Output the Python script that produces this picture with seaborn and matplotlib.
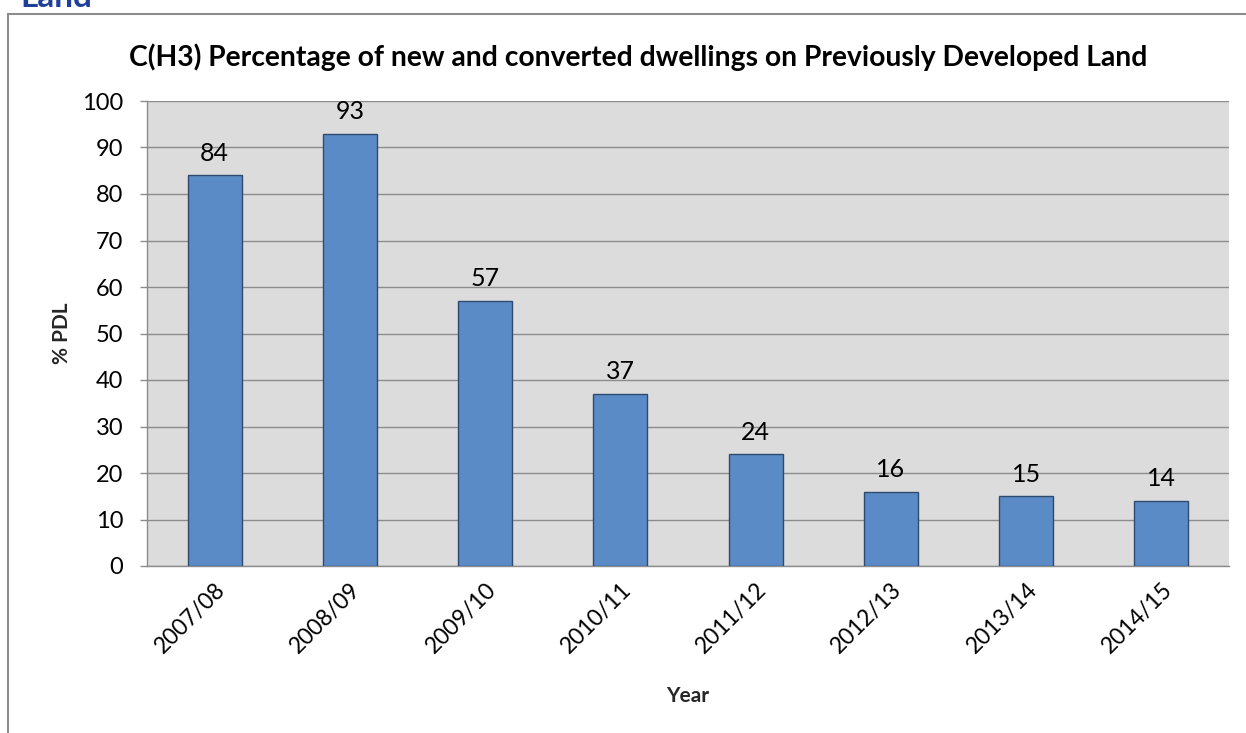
import matplotlib
matplotlib.use("Agg")
import matplotlib.pyplot as plt
import seaborn as sns
import pandas as pd
from matplotlib.patches import Rectangle

years = ["2007/08", "2008/09", "2009/10", "2010/11", "2011/12", "2012/13", "2013/14", "2014/15"]
pdl = [84, 93, 57, 37, 24, 16, 15, 14]
yticks = list(range(0, 101, 10))

sns.set_theme(style="white")
plt.rcParams['font.family'] = ['Lato', 'DejaVu Sans']

df = pd.DataFrame({"Year": years, "PDL": pdl})

fig = plt.figure(figsize=(12.46, 7.33), dpi=100)
ax = fig.add_axes([147/1246, 1-566/733, (1229-147)/1246, (566-101)/733])
ax.set_facecolor("#DCDCDC")

sns.barplot(data=df, x="Year", y="PDL", color="#5B8BC6", width=0.4,
            edgecolor="#2E4A6E", linewidth=1.0, saturation=1, ax=ax, zorder=3)

ax.set_ylim(0, 100)
ax.set_yticks(yticks)
ax.yaxis.grid(True, color="#8C8C8C", linewidth=1.0, zorder=0)
ax.set_axisbelow(True)
for s in ["top", "right"]:
    ax.spines[s].set_visible(False)
for s in ["left", "bottom"]:
    ax.spines[s].set_color("#8C8C8C")
    ax.spines[s].set_linewidth(1.0)
ax.tick_params(axis="y", which="major", length=5, width=1, color="#8C8C8C",
               labelsize=17, pad=12, left=True, labelcolor="#000000")
ax.tick_params(axis="x", length=0, labelsize=16.5, pad=9, labelcolor="#000000")
plt.setp(ax.get_xticklabels(), rotation=45, ha="right", rotation_mode="anchor")

for i, v in enumerate(pdl):
    ax.annotate(str(v), (i, v), xytext=(0, 16), textcoords="offset points",
                ha="center", va="center", fontsize=18, color="#000000")

ax.set_ylabel("% PDL", fontsize=15, fontweight="bold")
ax.set_xlabel("Year", fontsize=15, fontweight="bold")
ax.yaxis.set_label_coords((72-147)/1082, 0.5)
ax.xaxis.set_label_coords(0.5, (566-686)/465)

fig.text(638/1246, 1-57/733, "C(H3) Percentage of new and converted dwellings on Previously Developed Land",
         ha="center", va="center", fontsize=20.3, fontweight="bold", color="#000000")

# outer chart frame (cropped at right and bottom)
fig.patches.append(Rectangle((8/1246, -0.05), 1.2, 1-14/733+0.05, transform=fig.transFigure,
                             fill=False, edgecolor="#8C8C8C", linewidth=1.5))
fig.text(20/1246, 1-7/733, "Land", ha="left", va="baseline", fontsize=24,
         fontweight="bold", color="#1F3F9A")

fig.savefig("out.png", dpi=100)
